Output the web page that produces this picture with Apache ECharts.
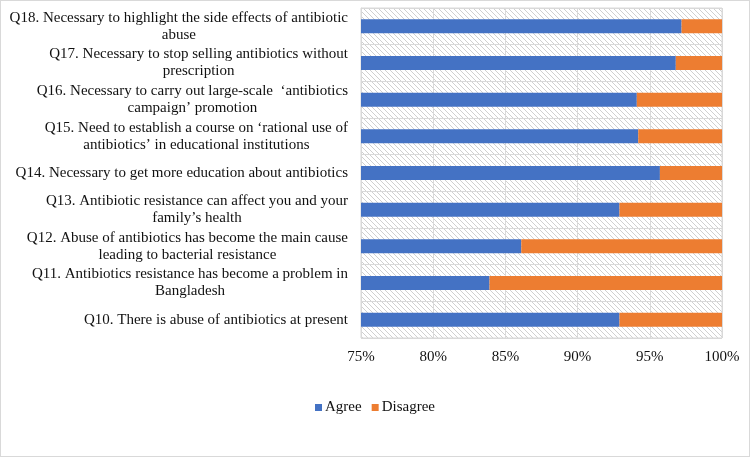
<!DOCTYPE html>
<html>
<head>
<meta charset="utf-8">
<script src="https://cdn.jsdelivr.net/npm/echarts@6/dist/echarts.min.js"></script>
<style>
  html, body { margin: 0; padding: 0; background: #fff; }
  #chart { width: 748px; height: 455px; border: 1px solid #d9d9d9; }
</style>
</head>
<body>
<div id="chart"></div>
<script>
// questions, bottom to top
const questions = [
  "Q10. There is abuse of antibiotics at present",
  "Q11. Antibiotics resistance has become a problem in\nBangladesh",
  "Q12. Abuse of antibiotics has become the main cause\nleading to bacterial resistance",
  "Q13. Antibiotic resistance can affect you and your\nfamily’s health",
  "Q14. Necessary to get more education about antibiotics",
  "Q15. Need to establish a course on ‘rational use of\nantibiotics’ in educational institutions",
  "Q16. Necessary to carry out large-scale  ‘antibiotics\ncampaign’ promotion",
  "Q17. Necessary to stop selling antibiotics without\nprescription",
  "Q18. Necessary to highlight the side effects of antibiotic\nabuse"
];
const agree = [92.9, 83.9, 86.1, 92.9, 95.7, 94.2, 94.1, 96.8, 97.2];
const disagree = [7.1, 16.1, 13.9, 7.1, 4.3, 5.8, 5.9, 3.2, 2.8];

const font = '"Liberation Serif", "Times New Roman", serif';

// hatched plot background
const hatch = document.createElement("canvas");
hatch.width = 5;
hatch.height = 5;
const hc = hatch.getContext("2d");
hc.fillStyle = "#fff";
hc.fillRect(0, 0, 5, 5);
hc.strokeStyle = "#d0d0d0";
hc.lineWidth = 1;
for (let i = -5; i <= 5; i += 5) {
  hc.beginPath();
  hc.moveTo(i, 0);
  hc.lineTo(i + 5, 5);
  hc.stroke();
}

const chart = echarts.init(document.getElementById("chart"));
chart.setOption({
  animation: false,
  textStyle: { fontFamily: font },
  grid: {
    left: 360, right: 27, top: 7, bottom: 118,
    show: true,
    backgroundColor: { image: hatch, repeat: "repeat" },
    borderColor: "#d9d9d9",
    borderWidth: 1
  },
  legend: {
    bottom: 36,
    left: "center",
    itemWidth: 7,
    itemHeight: 7,
    itemGap: 10,
    icon: "rect",
    textStyle: { fontFamily: font, fontSize: 15, color: "#111", padding: [0, 0, 0, -2] },
    data: ["Agree", "Disagree"]
  },
  xAxis: {
    type: "value",
    min: 75,
    max: 100,
    interval: 5,
    axisLine: { show: false },
    axisTick: { show: false },
    splitLine: { lineStyle: { color: "#d9d9d9" } },
    axisLabel: {
      formatter: "{value}%",
      margin: 12,
      fontFamily: font,
      fontSize: 15,
      color: "#111"
    }
  },
  yAxis: {
    type: "category",
    data: questions,
    axisLine: { show: true, lineStyle: { color: "#d9d9d9" } },
    axisTick: { show: false },
    splitLine: { show: true, lineStyle: { color: "#d9d9d9" } },
    axisLabel: {
      margin: 13,
      align: "right",
      formatter: function (v) {
        return v.split("\n").map(function (s) { return "{c|" + s + "}"; }).join("\n");
      },
      rich: {
        c: { align: "center", fontFamily: font, fontSize: 15, color: "#111", lineHeight: 17 }
      }
    }
  },
  series: [
    {
      name: "Agree",
      type: "bar",
      stack: "total",
      barWidth: "38%",
      itemStyle: { color: "#4472C4" },
      data: agree
    },
    {
      name: "Disagree",
      type: "bar",
      stack: "total",
      itemStyle: { color: "#ED7D31" },
      data: disagree
    }
  ]
});
</script>
</body>
</html>
